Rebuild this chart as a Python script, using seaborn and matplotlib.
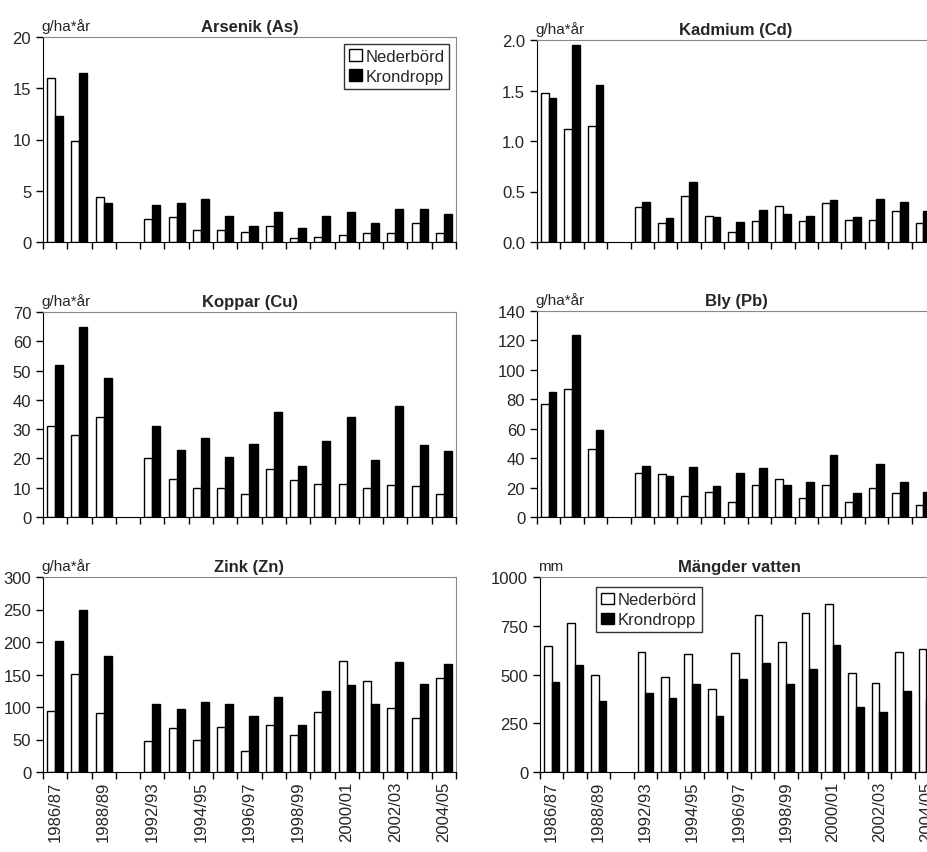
import matplotlib
matplotlib.use("Agg")
import matplotlib.pyplot as plt
import numpy as np
import pandas as pd
import seaborn as sns
from matplotlib.patches import Patch
from matplotlib.ticker import FixedLocator

sns.set_style("white")
plt.rcParams["font.family"] = ["Liberation Sans", "DejaVu Sans"]

years = ["1986/87", "1987/88", "1988/89", " ", "1992/93", "1993/94", "1994/95",
         "1995/96", "1996/97", "1997/98", "1998/99", "1999/00", "2000/01",
         "2001/02", "2002/03", "2003/04", "2004/05"]
nan = np.nan

as_ned = [16, 9.9, 4.4, nan, 2.2, 2.4, 1.2, 1.2, 1.0, 1.6, 0.4, 0.5, 0.7, 0.9, 0.9, 1.9, 0.9]
as_kro = [12.3, 16.5, 3.8, nan, 3.6, 3.8, 4.2, 2.5, 1.6, 2.9, 1.4, 2.5, 2.9, 1.9, 3.2, 3.2, 2.7]
cd_ned = [1.48, 1.12, 1.15, nan, 0.35, 0.19, 0.46, 0.26, 0.10, 0.21, 0.36, 0.21, 0.39, 0.22, 0.22, 0.31, 0.19]
cd_kro = [1.43, 1.95, 1.55, nan, 0.40, 0.24, 0.59, 0.25, 0.20, 0.32, 0.28, 0.26, 0.42, 0.25, 0.43, 0.40, 0.31]
cu_ned = [31, 28, 34, nan, 20, 13, 10, 10, 8, 16.5, 12.5, 11.3, 11.2, 10, 10.8, 10.5, 7.7]
cu_kro = [52, 65, 47.5, nan, 31, 23, 27, 20.5, 25, 36, 17.3, 26, 34, 19.3, 38, 24.5, 22.6]
pb_ned = [77, 87, 46, nan, 30, 29, 14, 17, 10, 22, 26, 13, 22, 10, 20, 16, 8]
pb_kro = [85, 124, 59, nan, 35, 28, 34, 21, 30, 33, 22, 24, 42, 16, 36, 24, 17]
zn_ned = [94, 151, 91, nan, 47, 68, 50, 69, 33, 72, 57, 92, 171, 140, 99, 83, 144]
zn_kro = [201, 250, 178, nan, 105, 97, 108, 104, 86, 116, 73, 124, 134, 105, 169, 136, 166]
vat_ned = [645, 765, 495, nan, 615, 485, 605, 425, 610, 805, 665, 815, 860, 510, 455, 615, 630]
vat_kro = [460, 550, 365, nan, 405, 380, 450, 285, 475, 560, 450, 530, 650, 335, 310, 415, 365]

panels = [
    ("Arsenik (As)", "g/ha*år", as_ned, as_kro, [0, 5, 10, 15, 20], "{:.0f}"),
    ("Kadmium (Cd)", "g/ha*år", cd_ned, cd_kro, [0, 0.5, 1.0, 1.5, 2.0], "{:.1f}"),
    ("Koppar (Cu)", "g/ha*år", cu_ned, cu_kro, list(range(0, 71, 10)), "{:.0f}"),
    ("Bly (Pb)", "g/ha*år", pb_ned, pb_kro, list(range(0, 141, 20)), "{:.0f}"),
    ("Zink (Zn)", "g/ha*år", zn_ned, zn_kro, list(range(0, 301, 50)), "{:.0f}"),
    ("Mängder vatten", "mm", vat_ned, vat_kro, [0, 250, 500, 750, 1000], "{:.0f}"),
]

W, H = 927, 853
fig = plt.figure(figsize=(W / 100, H / 100), dpi=100)
# pixel boxes: (left, top, bottom, width)
boxes = [(43, 38, 243, 413), (537, 41, 243, 398), (43, 313, 518, 413), (537, 312, 518, 398),
         (43, 578, 773, 413), (540, 578, 773, 398)]

legend_handles = [Patch(facecolor="white", edgecolor="black", label="Nederbörd"),
                  Patch(facecolor="black", edgecolor="black", label="Krondropp")]

for i, ((title, unit, ned, kro, yt, fmt), (l, t, b, w)) in enumerate(zip(panels, boxes)):
    ax = fig.add_axes([l / W, (H - b) / H, w / W, (b - t) / H])
    df = pd.DataFrame({"år": years * 2, "värde": ned + kro,
                       "typ": ["Nederbörd"] * len(years) + ["Krondropp"] * len(years)})
    sns.barplot(data=df, x="år", y="värde", hue="typ", order=years,
                hue_order=["Nederbörd", "Krondropp"], palette=["white", "black"],
                width=0.66, edgecolor="black", linewidth=1, ax=ax, legend=False)
    ax.set_xlim(-0.5, len(years) - 0.5)
    ax.set_ylim(yt[0], yt[-1])
    ax.set_yticks(yt)
    ax.set_yticklabels([fmt.format(v) for v in yt], fontsize=12)
    ax.set_xlabel("")
    ax.set_ylabel("")
    ax.xaxis.set_minor_locator(FixedLocator(np.arange(-0.5, len(years), 1)))
    ax.tick_params(axis="x", which="minor", length=5, width=1, color="black", bottom=True)
    ax.tick_params(axis="y", length=5, width=1, color="black", left=True)
    if i >= 4:
        pos = list(range(0, len(years), 2))
        ax.set_xticks(pos)
        ax.set_xticklabels([years[p] for p in pos], rotation=90, fontsize=12)
        ax.tick_params(axis="x", which="major", length=0, pad=6)
    else:
        ax.set_xticks([])
    for s in ["top", "right"]:
        ax.spines[s].set_color("#888888")
    for s in ["left", "bottom"]:
        ax.spines[s].set_color("black")
    ax.set_title(title, fontsize=12, fontweight="bold", pad=4)
    ax.text(-0.005, 1.02, unit, transform=ax.transAxes, fontsize=11, ha="left", va="bottom")
    if i == 0:
        ax.legend(handles=legend_handles, loc="upper right", fontsize=12, frameon=True,
                  fancybox=False, edgecolor="black", handlelength=0.8, handletextpad=0.2,
                  borderpad=0.3, borderaxespad=0.4, labelspacing=0.3)
    if i == 5:
        ax.legend(handles=legend_handles, loc="upper left", bbox_to_anchor=(0.12, 0.99),
                  fontsize=12, frameon=True, fancybox=False, edgecolor="black",
                  handlelength=0.8, handletextpad=0.2, borderpad=0.3, labelspacing=0.3)

fig.savefig("out.png", dpi=100)
